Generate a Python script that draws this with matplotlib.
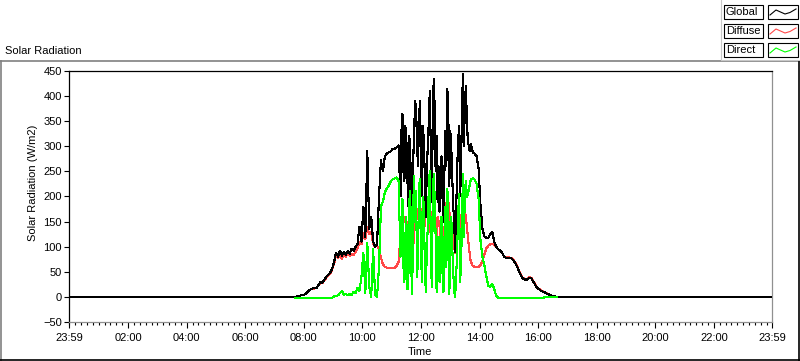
import numpy as np
import matplotlib
matplotlib.use("Agg")
import matplotlib.pyplot as plt
from matplotlib.lines import Line2D
from matplotlib.patches import Rectangle

plt.rcParams['font.family'] = ['Liberation Sans', 'DejaVu Sans']
plt.rcParams['font.size'] = 8

nan = np.nan

# sample times in minutes after midnight:
# 4-min steps in the morning / afternoon, 2-min steps in the cloudy midday
minutes_am = np.arange(450, 675, 4)     # 07:30 .. 11:14
minutes_mid = np.arange(678, 821, 2)    # 11:18 .. 13:40
minutes_pm = np.arange(822, 1011, 4)    # 13:42 .. 16:50

global_am = [
    0, 0, 0, 0, 1, 2, 3, 4, 5, 8,
    12, 15, 17, 18, 18, 24, 30, 28, 34, 40,
    44, 48, 56, 70, 88, 80, 92, 82, 90, 84,
    92, 86, 96, 92, 100, 105, 140, 110, 180, 120,
    290, 135, 160, 110, 100, 105, 200, 272, 250, 280,
    285, 288, 290, 295, 295, 298, 302,
]
global_mid = [
    200, 330, 365, 250, 230, 340, 315, 240, 180, 320,
    290, 180, 100, 270, 330, 390, 375, 300, 260, 360,
    390, 280, 200, 340, 310, 230, 160, 260, 300, 350,
    410, 300, 190, 330, 435, 380, 250, 320, 190, 260,
    170, 230, 280, 200, 150, 250, 330, 260, 415, 360,
    220, 330, 300, 240, 180, 150, 90, 170, 250, 310,
    340, 200, 250, 380, 445, 300, 390, 420, 350, 310,
    300, 290,
]
global_pm = [
    305, 288, 285, 280, 255, 180, 135,
    120, 118, 118, 125, 130, 110, 100, 95, 92, 88,
    80, 78, 78, 78, 76, 72, 66, 58, 48, 40,
    36, 34, 35, 38, 37, 30, 24, 18, 15, 12,
    10, 9, 6, 5, 3, 2, 1, 0, 0, 0,
    0,
]

diffuse_am = [
    0, 0, 0, 0, 1, 2, 3, 4, 5, 8,
    12, 15, 16, 17, 18, 23, 28, 27, 33, 38,
    42, 46, 54, 66, 84, 78, 82, 76, 84, 80,
    86, 82, 86, 84, 90, 96, 110, 105, 128, 115,
    140, 125, 130, 105, 100, 102, 95, 78, 65, 60,
    58, 57, 57, 58, 58, 62, 70,
]
diffuse_mid = [
    120, 150, 168, 160, 150, 155, 140, 150, 130, 125,
    110, 95, 85, 100, 120, 160, 155, 175, 170, 140,
    150, 175, 165, 140, 128, 150, 188, 175, 160, 130,
    140, 160, 170, 135, 150, 170, 125, 115, 160, 150,
    140, 120, 125, 140, 115, 130, 150, 185, 205, 190,
    170, 155, 140, 135, 120, 100, 88, 130, 165, 150,
    135, 140, 150, 175, 200, 190, 170, 160, 140, 120,
    100, 85,
]
diffuse_pm = [
    70, 62, 60, 60, 60, 64, 72,
    85, 97, 102, 105, 106, 104, 100, 95, 92, 88,
    81, 79, 79, 78, 77, 73, 67, 59, 49, 41,
    37, 35, 36, 39, 38, 31, 25, 19, 16, 13,
    11, 9, 7, 5, 3, 2, 1, 0, 0, 0,
    0,
]

direct_am = [
    nan, nan, nan, -2, -2, -2, -2, -2, -2, -2,
    -2, -2, -2, -2, -2, -2, -2, -2, -2, -2,
    -2, -2, -2, 1, 2, 3, 8, 12, 4, 6,
    3, 6, 4, 10, 8, 18, 12, 40, 88, 8,
    108, 20, 0, 95, 4, 0, 60, 180, 190, 208,
    216, 222, 230, 234, 236, 238, 232,
]
direct_mid = [
    80, 150, 195, 60, 30, 120, 160, 15, 20, 190,
    210, 60, 5, 180, 240, 150, 210, 40, 80, 220,
    235, 90, 30, 200, 180, 50, 10, 100, 140, 220,
    250, 120, 20, 170, 245, 200, 120, 10, 40, 120,
    30, 60, 160, 50, 10, 110, 180, 60, 215, 170,
    5, 80, 160, 100, 50, 10, 0, 40, 90, 160,
    205, 30, 60, 150, 245, 120, 215, 230, 200, 205,
    215, 225,
]
direct_pm = [
    234, 236, 234, 225, 195, 110, 80,
    62, 40, 22, 20, 26, 16, 2, -2, -2, -2,
    -2, -2, -2, -2, -2, -2, -2, -2, -2, -2,
    -2, -2, -2, -2, -2, -2, -2, -2, -2, -2,
    -2, 0, 0, 0, 0, 0, 0, 0, nan, nan,
    nan,
]

minutes = np.concatenate([minutes_am, minutes_mid, minutes_pm])
global_rad = np.concatenate([global_am, global_mid, global_pm])
diffuse_rad = np.concatenate([diffuse_am, diffuse_mid, diffuse_pm])
direct_rad = np.concatenate([direct_am, direct_mid, direct_pm])

# night hours are zero for global and diffuse
day_start, day_end = -1, 1439
t_full = np.concatenate([[day_start], minutes, [day_end]])
global_full = np.concatenate([[0], global_rad, [0]])
diffuse_full = np.concatenate([[0], diffuse_rad, [0]])

x_ticks = [-1, 120, 240, 360, 480, 600, 720, 840, 960, 1080, 1200, 1320, 1439]
x_labels = ["23:59", "02:00", "04:00", "06:00", "08:00", "10:00", "12:00",
            "14:00", "16:00", "18:00", "20:00", "22:00", "23:59"]
y_ticks = [-50, 0, 50, 100, 150, 200, 250, 300, 350, 400, 450]

W, H = 800, 361
fig = plt.figure(figsize=(W / 100, H / 100), dpi=100)


def fx(x):
    return x / W


def fy(y):
    return 1 - y / H


ax = fig.add_axes([fx(69), fy(322), fx(772) - fx(69), fy(71) - fy(322)])
ax.plot(t_full, diffuse_full, color='#ff4848', lw=0.8, antialiased=False, zorder=2)
ax.plot(t_full, global_full, color='black', lw=0.8, antialiased=False, zorder=3)
ax.plot(minutes, direct_rad, color='#00ff00', lw=0.8, antialiased=False, zorder=4)

ax.set_xlim(-1, 1439)
ax.set_ylim(-50, 450)
ax.set_xticks(x_ticks)
ax.set_xticklabels(x_labels)
minor = [m for m in range(0, 1440, 12) if m not in x_ticks]
ax.set_xticks(minor, minor=True)
ax.set_yticks(y_ticks)
ax.tick_params(axis='x', which='major', direction='out', length=4, width=0.8, pad=4)
ax.tick_params(axis='x', which='minor', direction='out', length=2.2, width=0.8)
ax.tick_params(axis='y', direction='out', length=3.6, width=0.8, pad=1.5)

for side in ['left', 'top']:
    ax.spines[side].set_color('black')
    ax.spines[side].set_linewidth(0.9)
for side in ['right', 'bottom']:
    ax.spines[side].set_color('#909090')
    ax.spines[side].set_linewidth(0.9)

fig.text(fx(33), fy(183), "Solar Radiation (W/m2)", rotation=90,
         ha='center', va='center')
fig.text(fx(420), fy(352), "Time", ha='center', va='center')
fig.text(fx(5), fy(51), "Solar Radiation", ha='left', va='center')

# outer frame
fig.add_artist(Line2D([0, 1], [fy(61), fy(61)], color='#808080', lw=1.2))
fig.add_artist(Line2D([fx(0.6), fx(0.6)], [fy(61), 0], color='#808080', lw=1.2))
fig.add_artist(Line2D([fx(799.4), fx(799.4)], [fy(61), 0], color='black', lw=1.2))
fig.add_artist(Line2D([0, 1], [fy(360.4), fy(360.4)], color='black', lw=1.2))

# legend panel
fig.add_artist(Line2D([fx(721), fx(721)], [1, fy(60)], color='#c8c8c8', lw=0.8))
fig.add_artist(Line2D([fx(721), 1], [fy(59.5), fy(59.5)], color='#c8c8c8', lw=0.8))
legend_names = ["Global", "Diffuse", "Direct"]
legend_colors = ['black', '#ff4848', '#00ff00']
legend_tops = [5, 24, 43]
for name, col, top in zip(legend_names, legend_colors, legend_tops):
    fig.add_artist(Rectangle((fx(724), fy(top + 14)), fx(39), fy(top) - fy(top + 14),
                             fc='white', ec='black', lw=0.8))
    fig.text(fx(726), fy(top + 7), name, ha='left', va='center')
    fig.add_artist(Rectangle((fx(768), fy(top + 14)), fx(30), fy(top) - fy(top + 14),
                             fc='white', ec='black', lw=0.8))
    zx = [770, 776, 785, 790, 796]
    zy = [top + 10, top + 5, top + 9, top + 7.5, top + 4]
    fig.add_artist(Line2D([fx(v) for v in zx], [fy(v) for v in zy],
                          color=col, lw=0.8))

fig.savefig("out.png", dpi=100)
